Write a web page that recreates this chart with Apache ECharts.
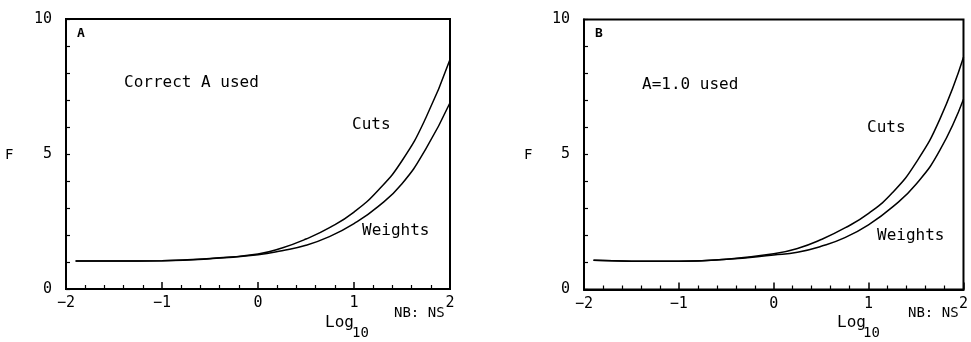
<!DOCTYPE html>
<html>
<head>
<meta charset="utf-8">
<script src="https://cdn.jsdelivr.net/npm/echarts@6/dist/echarts.min.js"></script>
<style>html,body{margin:0;padding:0;background:#fff;}#c{width:971px;height:342px;}</style>
</head>
<body>
<div id="c"></div>
<script>
// Log10 NB:NS sample points
var xValues = [-1.9, -1.5, -1.0, -0.5, 0, 0.25, 0.5, 0.75, 1.0, 1.25, 1.5, 1.75, 2.0];
// Panel A: Correct A used
var cutsA    = [1.04, 1.04, 1.05, 1.13, 1.30, 1.52, 1.85, 2.28, 2.85, 3.65, 4.75, 6.35, 8.5];
var weightsA = [1.04, 1.04, 1.05, 1.12, 1.27, 1.42, 1.62, 1.95, 2.42, 3.05, 3.90, 5.20, 6.9];
// Panel B: A=1.0 used
var cutsB    = [1.08, 1.05, 1.05, 1.12, 1.32, 1.52, 1.85, 2.28, 2.82, 3.58, 4.70, 6.30, 8.6];
var weightsB = [1.08, 1.05, 1.05, 1.12, 1.28, 1.38, 1.60, 1.92, 2.40, 3.05, 3.90, 5.15, 7.05];
var xTicks = [-2, -1, 0, 1, 2];
var yTicks = [0, 5, 10];

var FONT = 'DejaVu Sans Mono';
function pairs(xs, ys) { return xs.map(function (x, i) { return [x, ys[i]]; }); }

function xAxisDef(idx) {
  return {
    type: 'value', gridIndex: idx, min: -2, max: 2, interval: 1,
    axisLine: { show: true, onZero: false, lineStyle: { color: '#000', width: 2 } },
    axisTick: { show: true, inside: true, length: 7, lineStyle: { color: '#000', width: 1.5 } },
    minorTick: { show: true, splitNumber: 5, length: 4, lineStyle: { color: '#000', width: 1.2 } },
    splitLine: { show: false },
    axisLabel: { color: '#000', fontFamily: FONT, fontSize: 15, margin: 7,
      formatter: function (v) { return xTicks.indexOf(v) >= 0 ? (v < 0 ? '\u2212' + (-v) : String(v)) : ''; } }
  };
}
function yAxisDef(idx) {
  return {
    type: 'value', gridIndex: idx, min: 0, max: 10, interval: 5,
    axisLine: { show: true, onZero: false, lineStyle: { color: '#000', width: 2 } },
    axisTick: { show: true, inside: true, length: 4, lineStyle: { color: '#000', width: 1.2 } },
    minorTick: { show: true, splitNumber: 5, length: 4, lineStyle: { color: '#000', width: 1.2 } },
    splitLine: { show: false },
    axisLabel: { color: '#000', fontFamily: FONT, fontSize: 15, margin: 14,
      formatter: function (v) { return yTicks.indexOf(v) >= 0 ? String(v) : ''; } }
  };
}
function lineSeries(idx, data, name) {
  return {
    type: 'line', name: name, xAxisIndex: idx, yAxisIndex: idx, data: data,
    smooth: true, showSymbol: false, silent: true,
    lineStyle: { color: '#000', width: 1.5 }
  };
}
function txt(x, y, s, size, weight, align) {
  return { type: 'text', left: x, top: y, silent: true,
    style: { text: s, fill: '#000', font: (weight || 'normal') + ' ' + size + 'px "' + FONT + '"', textAlign: align || 'left' } };
}

var chart = echarts.init(document.getElementById('c'), null, { renderer: 'canvas' });
chart.setOption({
  animation: false,
  backgroundColor: '#fff',
  grid: [
    { left: 66, right: 521, top: 19, bottom: 53, show: true, borderColor: '#000', borderWidth: 2 },
    { left: 584, right: 6, top: 19.5, bottom: 52.5, show: true, borderColor: '#000', borderWidth: 2 }
  ],
  xAxis: [xAxisDef(0), xAxisDef(1)],
  yAxis: [yAxisDef(0), yAxisDef(1)],
  series: [
    lineSeries(0, pairs(xValues, cutsA), 'Cuts'),
    lineSeries(0, pairs(xValues, weightsA), 'Weights'),
    lineSeries(1, pairs(xValues, cutsB), 'Cuts'),
    lineSeries(1, pairs(xValues, weightsB), 'Weights')
  ],
  graphic: [
    txt(77, 27, 'A', 13, 'bold'),
    txt(124, 75, 'Correct A used', 16),
    txt(352, 117, 'Cuts', 16),
    txt(362, 223, 'Weights', 16),
    txt(5, 148, 'F', 14),
    txt(325, 315, 'Log', 16),
    txt(352, 326, '10', 14),
    txt(394, 306, 'NB: NS', 14),

    txt(595, 27, 'B', 13, 'bold'),
    txt(642, 77, 'A=1.0 used', 16),
    txt(867, 120, 'Cuts', 16),
    txt(877, 228, 'Weights', 16),
    txt(524, 148, 'F', 14),
    txt(837, 315, 'Log', 16),
    txt(863, 326, '10', 14),
    txt(908, 306, 'NB: NS', 14)
  ]
});
</script>
</body>
</html>
